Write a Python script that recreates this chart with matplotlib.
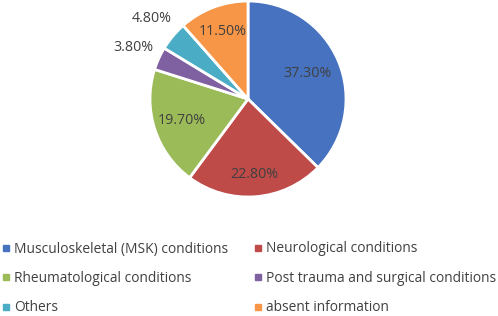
import numpy as np
import matplotlib
matplotlib.use('Agg')
import matplotlib.pyplot as plt
from matplotlib.lines import Line2D

categories = ['Musculoskeletal (MSK) conditions', 'Neurological conditions',
              'Rheumatological conditions', 'Post trauma and surgical conditions',
              'Others', 'absent information']
values = [37.3, 22.8, 19.7, 3.8, 4.8, 11.5]
labels = ['37.30%', '22.80%', '19.70%', '3.80%', '4.80%', '11.50%']
colors = ['#4672C0', '#BE4B48', '#9BBB59', '#7F60A0', '#4BACC6', '#F79646']
label_r = [0.66, 0.77, 0.71, 1.28, 1.28, 0.74]

plt.rcParams['font.family'] = ['Open Sans', 'DejaVu Sans']
text_color = '#404040'

W, H = 498, 316
fig = plt.figure(figsize=(W / 100, H / 100), dpi=100)

# pie centre and radius in pixels
cx, cy, R = 248, H - 99, 98
k = 1.4
ax = fig.add_axes([(cx - k * R) / W, (cy - k * R) / H, 2 * k * R / W, 2 * k * R / H])
wedges, _ = ax.pie(values, colors=colors, startangle=90, counterclock=False,
                   wedgeprops=dict(edgecolor='white', linewidth=2))
ax.set_xlim(-k, k)
ax.set_ylim(-k, k)
ax.axis('off')

for w, lab, r in zip(wedges, labels, label_r):
    ang = np.deg2rad((w.theta1 + w.theta2) / 2)
    ax.text(r * np.cos(ang), r * np.sin(ang), lab, ha='center', va='center',
            fontsize=10.3, color=text_color)

handles = [Line2D([], [], marker='s', linestyle='none', markersize=4,
                  markerfacecolor=c, markeredgecolor=c) for c in colors]
order = [0, 2, 4, 1, 3, 5]
fig.legend([handles[i] for i in order], [categories[i] for i in order],
           ncol=2, loc='upper left', bbox_to_anchor=(-0.007, 1 - 236 / H),
           frameon=False, fontsize=9.9, labelcolor=text_color,
           handlelength=0.55, handletextpad=0.35, labelspacing=1.05,
           columnspacing=1.85, borderaxespad=0)

fig.savefig('out.png', dpi=100, facecolor='white')
